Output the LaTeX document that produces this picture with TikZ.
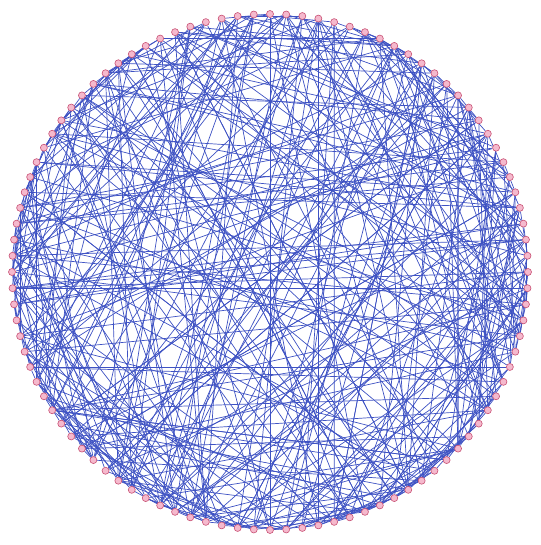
\documentclass[tikz,border=0pt]{standalone}
\usetikzlibrary{backgrounds}

\definecolor{edgeblue}{RGB}{62,82,195}
\definecolor{nodepink}{RGB}{245,185,205}
\definecolor{nodered}{RGB}{200,80,115}

\tikzset{
  vertex/.style={circle, inner sep=0pt, minimum size=7pt, fill=nodepink, draw=nodered, line width=0.6pt},
  edge/.style={edgeblue, line width=0.7pt}
}

\begin{document}
\begin{tikzpicture}[x=1pt,y=1pt]
\useasboundingbox (0,0) rectangle (540,545);

% vertices on the ring
\foreach \i in {1,...,100}
  \node[vertex] (v\i) at ({270+258*cos(90-3.6*\i)},{273+258*sin(90-3.6*\i)}) {};

% random chords
\begin{scope}[on background layer]
\pgfmathsetseed{2718}
\foreach \i in {1,...,100}{
  \foreach \k in {1,...,4}{
    \pgfmathtruncatemacro\j{random(1,100)}
    \draw[edge] (v\i) -- (v\j);
  }
}
\end{scope}

\end{tikzpicture}
\end{document}
